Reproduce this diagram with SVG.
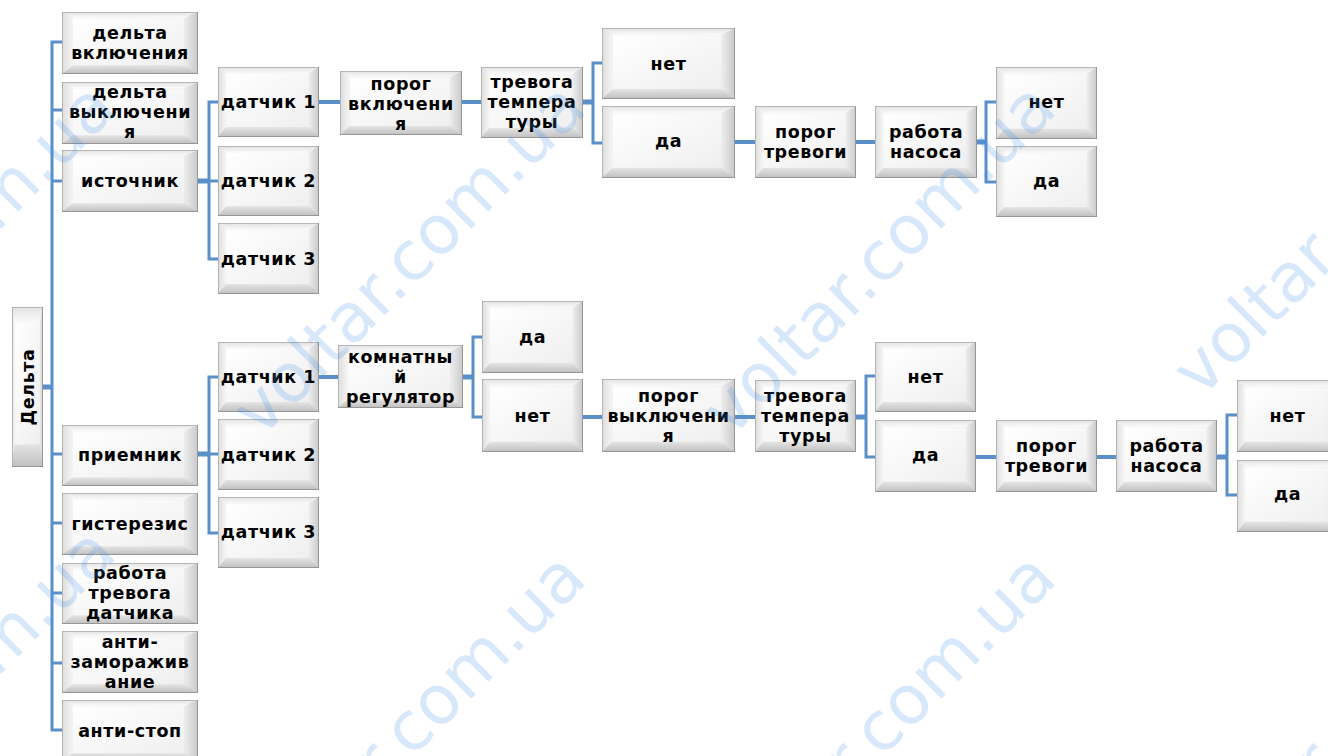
<svg xmlns="http://www.w3.org/2000/svg" xmlns:xlink="http://www.w3.org/1999/xlink" width="1328" height="756" viewBox="0 0 1328 756">
<style>
.t{font-family:"DejaVu Sans",Verdana,sans-serif;font-weight:bold;font-size:17.5px;letter-spacing:0.6px;text-anchor:middle;fill:#000}
.c{fill:none;stroke:#5A8FC8;stroke-width:3}
.h{stroke-width:4}
.s{stroke-width:5}
.wm{font-family:"DejaVu Sans",Verdana,sans-serif;font-size:68px;text-anchor:middle;fill:#3d8ff0;opacity:0.2}
</style>
<defs>
<linearGradient id="gT" x1="0" y1="0" x2="0" y2="1"><stop offset="0" stop-color="#e2e2e2"/><stop offset="1" stop-color="#fbfbfb"/></linearGradient>
<linearGradient id="gL" x1="0" y1="0" x2="1" y2="0"><stop offset="0" stop-color="#dddddd"/><stop offset="1" stop-color="#f6f6f6"/></linearGradient>
<linearGradient id="gB" x1="0" y1="0" x2="0" y2="1"><stop offset="0" stop-color="#e4e4e4"/><stop offset="1" stop-color="#bfbfbf"/></linearGradient>
<linearGradient id="gR" x1="0" y1="0" x2="1" y2="0"><stop offset="0" stop-color="#ededed"/><stop offset="1" stop-color="#c9c9c9"/></linearGradient>
<linearGradient id="gF" x1="0" y1="0" x2="1" y2="1"><stop offset="0" stop-color="#ffffff"/><stop offset="1" stop-color="#efefef"/></linearGradient>
<symbol id="bx" viewBox="0 0 100 100" preserveAspectRatio="none">
<rect width="100" height="100" fill="#d9d9d9"/>
<polygon points="0,0 100,0 90,10 8,10" fill="url(#gT)"/>
<polygon points="0,0 8,10 8,86 0,100" fill="url(#gL)"/>
<polygon points="0,100 8,86 90,86 100,100" fill="url(#gB)"/>
<polygon points="100,0 90,10 90,86 100,100" fill="url(#gR)"/>
<rect x="8" y="10" width="82" height="76" fill="url(#gF)"/>
<rect x="0" y="0" width="100" height="100" fill="none" stroke="#a6a6a6" stroke-width="1.5" vector-effect="non-scaling-stroke"/>
<polyline points="0,100 100,100 100,0" fill="none" stroke="#8f8f8f" stroke-width="1.5" vector-effect="non-scaling-stroke"/>
</symbol>
</defs>
<rect width="1328" height="756" fill="#ffffff"/>

<g id="connectors">
<path class="c s" d="M43,387H52"/>
<path class="c" d="M62,42H52V730H62M52,110H62M52,181H62M52,454H62M52,523H62M52,593H62M52,663H62"/>
<path class="c s" d="M198,181H209"/>
<path class="c" d="M218,102H209V259H218M209,181H218"/>
<path class="c h" d="M319,102H340M462,102H481"/>
<path class="c s" d="M583,102H593"/>
<path class="c" d="M602,63H593V143H602"/>
<path class="c h" d="M735,142H755M856,142H875"/>
<path class="c s" d="M977,142H986"/>
<path class="c" d="M996,102H986V182H996"/>
<path class="c s" d="M198,454H209"/>
<path class="c" d="M218,377H209V533H218M209,454H218"/>
<path class="c h" d="M319,377H338"/>
<path class="c s" d="M463,377H473"/>
<path class="c" d="M482,337H473V417H482"/>
<path class="c h" d="M583,417H602M735,417H755"/>
<path class="c s" d="M856,417H866"/>
<path class="c" d="M875,376H866V457H875"/>
<path class="c h" d="M976,457H996M1097,457H1116"/>
<path class="c s" d="M1217,457H1227"/>
<path class="c" d="M1237,415H1227V495H1237"/>
</g>

<g id="root"><use xlink:href="#bx" x="12" y="307" width="31" height="160"/><text class="t" transform="translate(27.5,387) rotate(-90)" x="0" y="6">Дельта</text></g>

<g id="n-delta-on"><use xlink:href="#bx" x="62" y="12" width="136" height="62"/><text class="t" x="130" y="39">дельта</text><text class="t" x="130" y="59">включения</text></g>
<g id="n-delta-off"><use xlink:href="#bx" x="62" y="82" width="136" height="62"/><text class="t" x="130" y="98">дельта</text><text class="t" x="130" y="118">выключени</text><text class="t" x="130" y="138">я</text></g>
<g id="n-source"><use xlink:href="#bx" x="62" y="150" width="136" height="62"/><text class="t" x="130" y="187">источник</text></g>
<g id="n-receiver"><use xlink:href="#bx" x="62" y="425" width="136" height="61"/><text class="t" x="130" y="461">приемник</text></g>
<g id="n-hyst"><use xlink:href="#bx" x="62" y="493" width="136" height="62"/><text class="t" x="130" y="530">гистерезис</text></g>
<g id="n-alarm-sensor"><use xlink:href="#bx" x="62" y="563" width="136" height="61"/><text class="t" x="130" y="579">работа</text><text class="t" x="130" y="599">тревога</text><text class="t" x="130" y="619">датчика</text></g>
<g id="n-antifreeze"><use xlink:href="#bx" x="62" y="631" width="136" height="62"/><text class="t" x="130" y="648">анти-</text><text class="t" x="130" y="668">заморажив</text><text class="t" x="130" y="688">ание</text></g>
<g id="n-antistop"><use xlink:href="#bx" x="62" y="700" width="136" height="62"/><text class="t" x="130" y="737">анти-стоп</text></g>

<g id="s-d1"><use xlink:href="#bx" x="218" y="67" width="101" height="70"/><text class="t" x="268.5" y="108">датчик 1</text></g>
<g id="s-d2"><use xlink:href="#bx" x="218" y="146" width="101" height="70"/><text class="t" x="268.5" y="187">датчик 2</text></g>
<g id="s-d3"><use xlink:href="#bx" x="218" y="223" width="101" height="71"/><text class="t" x="268.5" y="265">датчик 3</text></g>
<g id="s-thr-on"><use xlink:href="#bx" x="340" y="71" width="122" height="64"/><text class="t" x="401" y="90">порог</text><text class="t" x="401" y="110">включени</text><text class="t" x="401" y="130">я</text></g>
<g id="s-temp-alarm"><use xlink:href="#bx" x="481" y="67" width="102" height="71"/><text class="t" x="532" y="88">тревога</text><text class="t" x="532" y="108">темпера</text><text class="t" x="532" y="128">туры</text></g>
<g id="s-no1"><use xlink:href="#bx" x="602" y="28" width="133" height="71"/><text class="t" x="668.5" y="70">нет</text></g>
<g id="s-yes1"><use xlink:href="#bx" x="602" y="106" width="133" height="72"/><text class="t" x="668.5" y="147">да</text></g>
<g id="s-thr-alarm"><use xlink:href="#bx" x="755" y="106" width="101" height="72"/><text class="t" x="805.5" y="138">порог</text><text class="t" x="805.5" y="158">тревоги</text></g>
<g id="s-pump"><use xlink:href="#bx" x="875" y="106" width="102" height="72"/><text class="t" x="926" y="138">работа</text><text class="t" x="926" y="158">насоса</text></g>
<g id="s-no2"><use xlink:href="#bx" x="996" y="67" width="101" height="72"/><text class="t" x="1046.5" y="108">нет</text></g>
<g id="s-yes2"><use xlink:href="#bx" x="996" y="146" width="101" height="71"/><text class="t" x="1046.5" y="187">да</text></g>

<g id="r-d1"><use xlink:href="#bx" x="218" y="342" width="101" height="70"/><text class="t" x="268.5" y="383">датчик 1</text></g>
<g id="r-d2"><use xlink:href="#bx" x="218" y="419" width="101" height="71"/><text class="t" x="268.5" y="461">датчик 2</text></g>
<g id="r-d3"><use xlink:href="#bx" x="218" y="497" width="101" height="71"/><text class="t" x="268.5" y="538">датчик 3</text></g>
<g id="r-room"><use xlink:href="#bx" x="338" y="345" width="125" height="63"/><text class="t" x="400.5" y="363">комнатны</text><text class="t" x="400.5" y="383">й</text><text class="t" x="400.5" y="403">регулятор</text></g>
<g id="r-yes1"><use xlink:href="#bx" x="482" y="301" width="101" height="72"/><text class="t" x="532.5" y="343">да</text></g>
<g id="r-no1"><use xlink:href="#bx" x="482" y="379" width="101" height="73"/><text class="t" x="532.5" y="422">нет</text></g>
<g id="r-thr-off"><use xlink:href="#bx" x="602" y="379" width="133" height="73"/><text class="t" x="668.5" y="402">порог</text><text class="t" x="668.5" y="422">выключени</text><text class="t" x="668.5" y="442">я</text></g>
<g id="r-temp-alarm"><use xlink:href="#bx" x="755" y="380" width="101" height="72"/><text class="t" x="805.5" y="402">тревога</text><text class="t" x="805.5" y="422">темпера</text><text class="t" x="805.5" y="442">туры</text></g>
<g id="r-no2"><use xlink:href="#bx" x="875" y="342" width="101" height="70"/><text class="t" x="925.5" y="383">нет</text></g>
<g id="r-yes2"><use xlink:href="#bx" x="875" y="420" width="101" height="72"/><text class="t" x="925.5" y="461">да</text></g>
<g id="r-thr-alarm"><use xlink:href="#bx" x="996" y="420" width="101" height="72"/><text class="t" x="1046.5" y="452">порог</text><text class="t" x="1046.5" y="472">тревоги</text></g>
<g id="r-pump"><use xlink:href="#bx" x="1116" y="420" width="101" height="72"/><text class="t" x="1166.5" y="452">работа</text><text class="t" x="1166.5" y="472">насоса</text></g>
<g id="r-no3"><use xlink:href="#bx" x="1237" y="380" width="101" height="72"/><text class="t" x="1287.5" y="422">нет</text></g>
<g id="r-yes3"><use xlink:href="#bx" x="1237" y="460" width="101" height="72"/><text class="t" x="1287.5" y="500">да</text></g>

<g id="watermark">
<text class="wm" transform="translate(-45,275) rotate(-45)">voltar.com.ua</text>
<text class="wm" transform="translate(425,275) rotate(-45)">voltar.com.ua</text>
<text class="wm" transform="translate(895,275) rotate(-45)">voltar.com.ua</text>
<text class="wm" transform="translate(1365,235) rotate(-45)">voltar.com.ua</text>
<text class="wm" transform="translate(-45,720) rotate(-45)">voltar.com.ua</text>
<text class="wm" transform="translate(425,745) rotate(-45)">voltar.com.ua</text>
<text class="wm" transform="translate(895,745) rotate(-45)">voltar.com.ua</text>
<text class="wm" transform="translate(1365,745) rotate(-45)">voltar.com.ua</text>
</g>
</svg>
